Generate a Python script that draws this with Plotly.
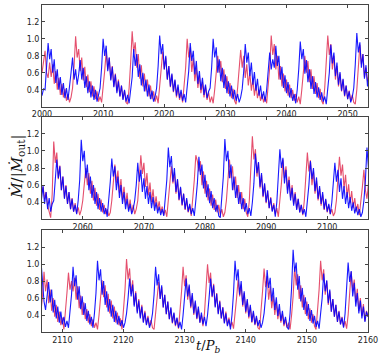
import numpy as np
import plotly.graph_objects as go
from plotly.subplots import make_subplots

# time grid of the run (units of binary period), one sample every 0.25 P_b
T0 = 2000.0
DT = 0.25

# accretion rate onto each component, in hundredths of |Mdot_out|
blue = [
    33, 41, 40, 62,
    95, 76, 88, 60, 76, 48, 64, 40, 55, 34, 48, 30, 42, 28, 42, 60,
    78, 52, 64, 46, 58, 75, 52, 66, 42, 56, 36, 50, 31, 45, 28, 40, 26, 33, 42, 66,
    100, 80, 92, 62, 78, 51, 67, 43, 58, 36, 50, 32, 45, 28, 40, 26, 34, 24, 40, 55,
    88, 68, 82, 55, 70, 45, 60, 38, 52, 32, 46, 29, 39, 26, 32, 42, 68,
    104, 82, 94, 64, 80, 52, 68, 44, 59, 38, 52, 33, 46, 30, 40, 27, 35, 25, 40, 62,
    95, 74, 86, 58, 74, 47, 62, 40, 54, 34, 46, 30, 38, 42, 66,
    100, 78, 90, 60, 76, 50, 66, 42, 58, 36, 50, 32, 45, 29, 40, 27, 35, 25, 31, 41, 62,
    94, 72, 84, 56, 72, 46, 61, 39, 53, 33, 45, 29, 38, 26, 40, 58,
    84, 64, 76, 66, 92, 68, 80, 52, 67, 42, 57, 36, 49, 31, 42, 27, 35, 24, 40, 64,
    97, 76, 88, 59, 75, 49, 64, 41, 56, 35, 49, 31, 43, 28, 37, 26, 32, 23, 40, 60,
    93, 71, 84, 56, 72, 46, 61, 39, 53, 33, 45, 29, 38, 25, 31, 42, 70,
    107, 84, 96, 66, 82, 53, 69, 44, 59, 38, 52, 32, 45, 29, 38, 42, 62,
    90, 68, 82, 54, 70, 44, 59, 38, 52, 32, 44, 29, 37, 26, 42, 66,
    113, 88, 100, 68, 84, 54, 70, 45, 60, 38, 52, 32, 45, 29, 39, 26, 33, 23, 42, 64,
    91, 70, 82, 54, 70, 45, 60, 38, 52, 32, 44, 29, 38, 26, 32, 42, 60,
    86, 64, 78, 52, 68, 44, 59, 38, 52, 33, 46, 30, 40, 27, 35, 25, 32, 24, 42, 66,
    104, 81, 94, 64, 80, 52, 67, 43, 58, 37, 50, 32, 45, 29, 38, 26, 33, 24, 42, 62,
    93, 72, 84, 56, 72, 46, 61, 39, 53, 33, 45, 29, 37, 24, 22, 42, 70,
    114, 88, 100, 68, 84, 54, 70, 45, 60, 38, 52, 32, 45, 29, 39, 26, 33, 24, 40, 62,
    97, 74, 87, 58, 74, 47, 62, 40, 54, 33, 45, 29, 37, 23, 40, 65,
    102, 80, 92, 62, 78, 50, 66, 42, 57, 36, 50, 31, 44, 28, 37, 26, 32, 23, 40, 60,
    88, 67, 80, 53, 69, 44, 59, 38, 52, 32, 44, 29, 38, 26, 40, 60,
    86, 64, 78, 52, 68, 44, 59, 38, 52, 33, 46, 30, 40, 27, 35, 25, 32, 23, 28, 42, 66,
    104, 78, 56, 46, 62, 79, 55, 70, 43, 58, 36, 50, 31, 44, 29, 38, 26, 33, 25, 42, 64,
    97, 74, 87, 58, 74, 47, 62, 40, 54, 33, 45, 29, 38, 25, 42, 66,
    104, 81, 94, 64, 80, 52, 68, 44, 59, 38, 52, 32, 45, 29, 39, 27, 34, 25, 31, 42, 60,
    83, 62, 76, 50, 66, 42, 57, 36, 50, 31, 43, 28, 37, 25, 31, 42, 64,
    97, 75, 88, 59, 75, 49, 64, 41, 56, 35, 49, 31, 43, 28, 37, 25, 32, 23, 40, 60,
    83, 62, 76, 50, 66, 42, 57, 36, 50, 31, 43, 29, 38, 27, 40, 60,
    83, 62, 75, 49, 65, 41, 56, 36, 49, 30, 42, 27, 35, 23, 40, 66,
    104, 81, 94, 64, 80, 52, 68, 44, 59, 38, 52, 32, 45, 29, 39, 27, 34, 25, 31, 42, 62,
    93, 72, 84, 56, 72, 46, 61, 39, 53, 33, 45, 29, 38, 26, 23, 42, 72,
    117, 91, 102, 70, 86, 56, 72, 46, 61, 39, 53, 33, 46, 30, 39, 26, 33, 24, 40, 60,
    89, 68, 81, 54, 70, 44, 59, 38, 52, 32, 44, 29, 37, 25, 42, 66,
    102, 79, 92, 62, 78, 50, 66, 42, 57, 36, 50, 32, 44, 38,
]

red = [
    60, 72,
    86, 60, 54, 72, 55, 70, 47, 62, 40, 54, 34, 47, 31, 41, 27, 35, 25, 31, 42, 68,
    103, 78, 88, 62, 78, 51, 67, 43, 58, 37, 50, 32, 44, 29, 38, 26, 32, 25, 42, 62,
    85, 64, 78, 52, 68, 44, 59, 38, 52, 32, 45, 29, 39, 25, 23, 42, 72,
    109, 84, 96, 66, 82, 53, 69, 44, 59, 38, 52, 32, 45, 29, 38, 26, 33, 24, 42, 62,
    85, 64, 78, 52, 68, 43, 58, 37, 51, 31, 43, 28, 36, 25, 42, 66,
    100, 78, 90, 61, 77, 50, 66, 42, 57, 36, 49, 31, 44, 28, 37, 25, 32, 24, 40, 60,
    80, 60, 74, 49, 64, 41, 56, 35, 48, 30, 41, 27, 23, 42, 64,
    87, 66, 80, 54, 70, 45, 60, 39, 53, 33, 46, 30, 40, 27, 35, 25, 32, 24, 42, 66,
    104, 81, 94, 64, 80, 52, 68, 44, 59, 38, 52, 33, 46, 30, 40, 27, 35, 25, 32, 23, 40, 58,
    80, 60, 74, 49, 64, 41, 56, 35, 48, 30, 41, 27, 23, 42, 68,
    104, 81, 94, 64, 80, 52, 68, 44, 59, 38, 52, 32, 45, 29, 39, 27, 34, 25, 23, 40, 62,
    93, 70, 82, 55, 66, 50, 58, 44, 52, 36, 28, 22, 50,
    111, 86, 98, 67, 83, 54, 70, 45, 60, 38, 52, 32, 45, 29, 39, 27, 34, 25, 31, 42, 60,
    80, 60, 74, 50, 65, 42, 57, 36, 50, 31, 43, 28, 37, 26, 32, 24, 28, 42, 64,
    84, 63, 77, 51, 67, 43, 58, 37, 51, 31, 43, 28, 37, 26, 32, 42, 66,
    95, 73, 86, 58, 74, 48, 63, 40, 55, 35, 47, 31, 41, 28, 35, 25, 31, 23, 42, 62,
    82, 62, 75, 50, 66, 42, 57, 36, 50, 31, 43, 28, 36, 24, 42, 66,
    95, 88, 76, 88, 60, 76, 50, 65, 42, 56, 36, 49, 31, 43, 28, 37, 25, 32, 23, 28, 42, 66,
    90, 68, 82, 54, 70, 45, 60, 38, 52, 32, 44, 28, 23, 42, 74,
    117, 90, 102, 70, 86, 56, 72, 46, 61, 39, 53, 33, 46, 30, 39, 26, 33, 23, 40, 62,
    90, 68, 82, 54, 70, 45, 60, 38, 52, 32, 44, 28, 37, 25, 42, 66,
    98, 76, 89, 60, 76, 50, 65, 42, 56, 36, 49, 31, 43, 28, 37, 26, 32, 24, 28, 42, 64,
    93, 71, 84, 56, 72, 46, 61, 39, 53, 33, 45, 29, 38, 25, 40, 58,
    78, 54, 44, 62, 91, 68, 82, 54, 70, 45, 60, 38, 52, 32, 44, 28, 37, 23, 42, 66,
    90, 70, 80, 68, 84, 58, 74, 48, 63, 40, 55, 35, 47, 31, 41, 27, 35, 25, 31, 23, 40, 60,
    81, 61, 75, 49, 65, 42, 57, 36, 50, 31, 43, 28, 36, 23, 42, 70,
    106, 82, 95, 65, 81, 52, 68, 44, 59, 38, 52, 32, 45, 29, 39, 27, 34, 25, 23, 40, 58,
    79, 59, 73, 49, 64, 41, 56, 35, 48, 30, 42, 27, 36, 24, 42, 68,
    97, 74, 87, 58, 74, 48, 63, 40, 55, 35, 47, 31, 40, 27, 42, 70,
    100, 78, 90, 61, 77, 50, 66, 42, 57, 36, 49, 31, 44, 28, 37, 26, 32, 24, 40, 60,
    82, 62, 76, 50, 66, 42, 57, 36, 50, 31, 43, 28, 37, 25, 23, 42, 68,
    95, 73, 86, 58, 74, 48, 63, 40, 55, 35, 47, 31, 41, 27, 35, 25, 31, 23, 40, 62,
    97, 75, 88, 59, 75, 49, 64, 41, 56, 35, 48, 31, 41, 27, 23, 42, 70,
    104, 81, 94, 64, 80, 52, 68, 44, 59, 38, 52, 32, 45, 29, 38, 26, 33, 24, 40, 62,
    91, 69, 82, 55, 71, 45, 60, 39, 53, 33, 45, 38,
]

# each panel shows a third of the run
x_ranges = [[2000, 2053.33], [2053.33, 2106.67], [2106.67, 2160]]
x_ticks = [[2000, 2010, 2020, 2030, 2040, 2050],
           [2060, 2070, 2080, 2090, 2100],
           [2110, 2120, 2130, 2140, 2150, 2160]]
y_ticks = [0.4, 0.6, 0.8, 1.0, 1.2]

t_blue = T0 + DT * np.arange(len(blue))
t_red = T0 + DT * np.arange(len(red))
y_blue = np.array(blue) / 100.0
y_red = np.array(red) / 100.0

fig = make_subplots(rows=3, cols=1)

for i in range(3):
    fig.add_trace(go.Scatter(x=t_red, y=y_red, mode='lines', opacity=0.75,
                             line=dict(color='#dc143c', width=1.1), showlegend=False), row=i+1, col=1)
    fig.add_trace(go.Scatter(x=t_blue, y=y_blue, mode='lines', opacity=0.9,
                             line=dict(color='#0000ff', width=1.1), showlegend=False), row=i+1, col=1)

domains = [[0.689, 1.0], [0.3445, 0.6585], [0.0, 0.311]]
axis_style = dict(showline=True, mirror='allticks', linecolor='#444444', linewidth=1,
                  ticks='inside', ticklen=3, tickcolor='#444444', showgrid=False, zeroline=False,
                  tickfont=dict(family='DejaVu Sans', size=8, color='#222222'))

for i in range(3):
    fig.update_xaxes(range=x_ranges[i], tickvals=x_ticks[i], ticktext=[str(v) for v in x_ticks[i]],
                     row=i+1, col=1, **axis_style)
    fig.update_yaxes(range=[0.2, 1.4], tickvals=y_ticks, ticktext=['%.1f' % v for v in y_ticks],
                     domain=domains[i], row=i+1, col=1, **axis_style)

fig.add_annotation(text='<i>Ṁ</i>/|<i>Ṁ</i><sub>out</sub>|', xref='paper', yref='paper',
                   x=-0.076, y=0.506, xanchor='center', yanchor='middle', textangle=-90,
                   showarrow=False, font=dict(family='DejaVu Serif', size=15, color='#111111'))
fig.add_annotation(text='<i>t</i>/<i>P</i><sub><i>b</i></sub>', xref='paper', yref='paper',
                   x=0.508, y=-0.043, xanchor='center', yanchor='middle', showarrow=False,
                   font=dict(family='DejaVu Serif', size=13, color='#111111'))

fig.update_layout(width=382, height=363, margin=dict(l=42, r=11, t=4, b=31),
                  plot_bgcolor='white', paper_bgcolor='white')

# no page margin, so the figure sits at the window's corner
fig.write_html("out.html", config={'displayModeBar': False},
               post_script="document.body.style.margin='0px';")
